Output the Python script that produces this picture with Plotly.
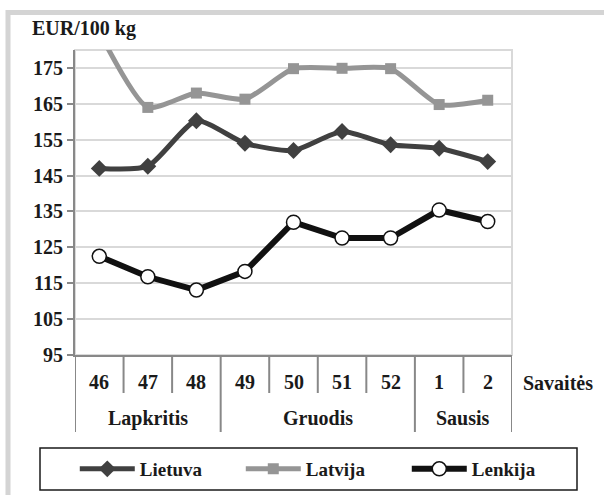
import plotly.graph_objects as go

months = ["Lapkritis", "Gruodis", "Sausis"]
month_weeks = [3, 4, 2]
weeks = ["46", "47", "48", "49", "50", "51", "52", "1", "2"]

lietuva = [147.0, 147.6, 160.3, 154.0, 152.0, 157.3, 153.6, 152.6, 148.9]
latvija = [185.0, 164.0, 168.0, 166.3, 174.8, 174.9, 174.8, 164.8, 166.0]
lenkija = [122.5, 116.8, 113.1, 118.3, 132.0, 127.6, 127.6, 135.4, 132.2]

FONT = "Liberation Serif"
TXT = "#1a1a1a"
AX = "#888888"
FS = 20

fig = go.Figure()
fig.add_trace(go.Scatter(
    x=weeks, y=lietuva, name="Lietuva", mode="lines+markers",
    line=dict(color="#404040", width=5, shape="spline", smoothing=0.6),
    marker=dict(symbol="diamond", size=13, color="#404040"),
))
fig.add_trace(go.Scatter(
    x=weeks, y=latvija, name="Latvija", mode="lines+markers",
    line=dict(color="#959595", width=5, shape="spline", smoothing=0.6),
    marker=dict(symbol="square", size=11, color="#959595"),
))
fig.add_trace(go.Scatter(
    x=weeks, y=lenkija, name="Lenkija", mode="lines+markers",
    line=dict(color="#111111", width=6),
    marker=dict(symbol="circle", size=14, color="white", line=dict(color="#111111", width=1.5)),
))

def px2x(p):
    return (p - 75) / 437.0

def px2y(p):
    return (355 - p) / 305.0

shapes = [
    dict(type="rect", xref="paper", yref="paper", x0=0, x1=1, y0=0, y1=1,
         line=dict(color="#d9d9d9", width=2), layer="below"),
    dict(type="rect", xref="paper", yref="paper", x0=px2x(8), x1=px2x(640), y0=px2y(540), y1=px2y(12.5),
         line=dict(color="#d4d4d4", width=5)),
    dict(type="rect", xref="paper", yref="paper", x0=px2x(40), x1=px2x(577), y0=px2y(490), y1=px2y(448),
         line=dict(color=TXT, width=1.5)),
]
annotations = [
    dict(text="EUR/100 kg", xref="paper", yref="paper", x=px2x(30), y=px2y(28),
         xanchor="left", yanchor="middle", showarrow=False,
         font=dict(family=FONT, size=FS, color=TXT, weight="bold")),
    dict(text="Savaitės", xref="paper", yref="paper", x=px2x(521), y=px2y(383),
         xanchor="left", yanchor="middle", showarrow=False,
         font=dict(family=FONT, size=FS, color=TXT, weight="bold")),
]

# week labels and inner dividers
for i, w in enumerate(weeks):
    annotations.append(dict(text=w, xref="x", yref="paper", x=i, y=px2y(382),
                            xanchor="center", yanchor="middle", showarrow=False,
                            font=dict(family=FONT, size=FS, color=TXT, weight="bold")))
outer = [-0.5]
acc = -0.5
for n in month_weeks:
    acc += n
    outer.append(acc)
for b in range(len(weeks) + 1):
    pos = b - 0.5
    bottom = 432 if pos in outer else 393
    shapes.append(dict(type="line", xref="x", yref="paper", x0=pos, x1=pos, y0=0, y1=px2y(bottom),
                       line=dict(color=AX, width=2)))
# month labels
start = 0
for m, n in zip(months, month_weeks):
    annotations.append(dict(text=m, xref="x", yref="paper", x=start + (n - 1) / 2.0, y=px2y(418),
                            xanchor="center", yanchor="middle", showarrow=False,
                            font=dict(family=FONT, size=FS, color=TXT, weight="bold")))
    start += n

fig.update_layout(
    width=604, height=495,
    margin=dict(l=75, r=92, t=50, b=140, autoexpand=False),
    paper_bgcolor="white", plot_bgcolor="white",
    font=dict(family=FONT, size=FS, color=TXT),
    showlegend=True,
    legend=dict(
        orientation="h", x=-0.0005, xanchor="left", y=px2y(469), yanchor="middle",
        font=dict(family=FONT, size=19, color=TXT, weight="bold"),
        entrywidth=96, itemwidth=55, borderwidth=0, bgcolor="rgba(0,0,0,0)",
    ),
    xaxis=dict(
        type="category", range=[-0.5, len(weeks) - 0.5], showgrid=False,
        showline=True, linecolor=AX, linewidth=2,
        showticklabels=False, ticks="", fixedrange=True,
    ),
    yaxis=dict(
        range=[95, 180], tick0=95, dtick=10, showgrid=True, gridcolor="#d9d9d9", gridwidth=1.5,
        showline=True, linecolor=AX, linewidth=2, zeroline=False,
        ticks="outside", ticklen=6, tickcolor=AX, tickwidth=2,
        tickfont=dict(family=FONT, size=FS, color=TXT, weight="bold"),
        fixedrange=True,
    ),
    shapes=shapes,
    annotations=annotations,
)

fig.write_html("out.html", config={"displayModeBar": False},
               post_script="document.body.style.margin='0';")
